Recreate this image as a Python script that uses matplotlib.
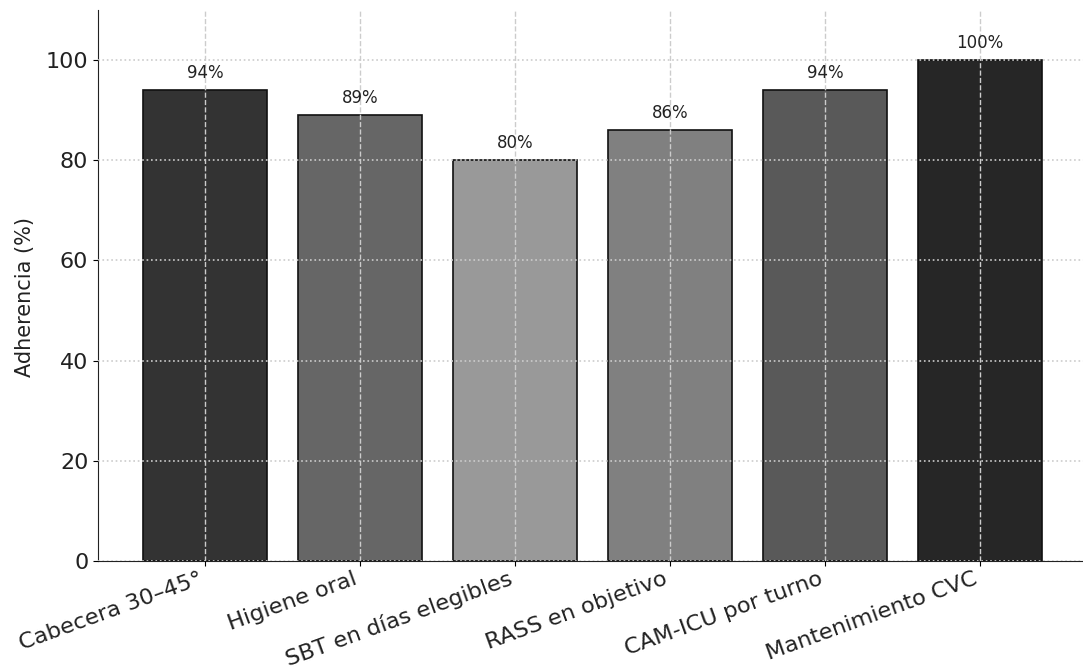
import matplotlib
matplotlib.use("Agg")
import matplotlib.pyplot as plt

categories = [
    "Cabecera 30–45°",
    "Higiene oral",
    "SBT en días elegibles",
    "RASS en objetivo",
    "CAM-ICU por turno",
    "Mantenimiento CVC",
]
adherence = [94, 89, 80, 86, 94, 100]
bar_colors = ["#333333", "#666666", "#999999", "#808080", "#595959", "#262626"]

TEXT = "#222222"

fig = plt.figure(figsize=(10.83, 6.72), dpi=100)
ax = fig.add_axes([98 / 1083, 1 - 561 / 672, 989 / 1083, 551 / 672])

x = range(len(categories))
bars = ax.bar(x, adherence, width=0.8, color=bar_colors, edgecolor="#111111", linewidth=1.2)

# value labels above each bar
for b, v in zip(bars, adherence):
    ax.annotate(f"{v}%", (b.get_x() + b.get_width() / 2, v), xytext=(0, 6),
                textcoords="offset points", ha="center", va="bottom",
                fontsize=12, color=TEXT)

ax.set_ylim(0, 110)
ax.set_xticks(list(x))
ax.set_xticklabels(categories, rotation=20, ha="right", fontsize=16.2, color=TEXT)
ax.tick_params(axis="x", pad=2)
ax.tick_params(axis="y", labelsize=16, labelcolor=TEXT)
ax.set_ylabel("Adherencia (%)", fontsize=15, color=TEXT)
ax.yaxis.set_label_coords(-0.064, 0.479)

# grid over the bars: dashed verticals, dotted horizontals
ax.set_axisbelow(False)
ax.xaxis.grid(True, linestyle="--", color="#cccccc", linewidth=1)
ax.yaxis.grid(True, linestyle=":", color="#cccccc", linewidth=1.2)

ax.spines["top"].set_visible(False)
ax.spines["right"].set_visible(False)
for s in ("left", "bottom"):
    ax.spines[s].set_color(TEXT)

fig.savefig("out.png", dpi=100)
